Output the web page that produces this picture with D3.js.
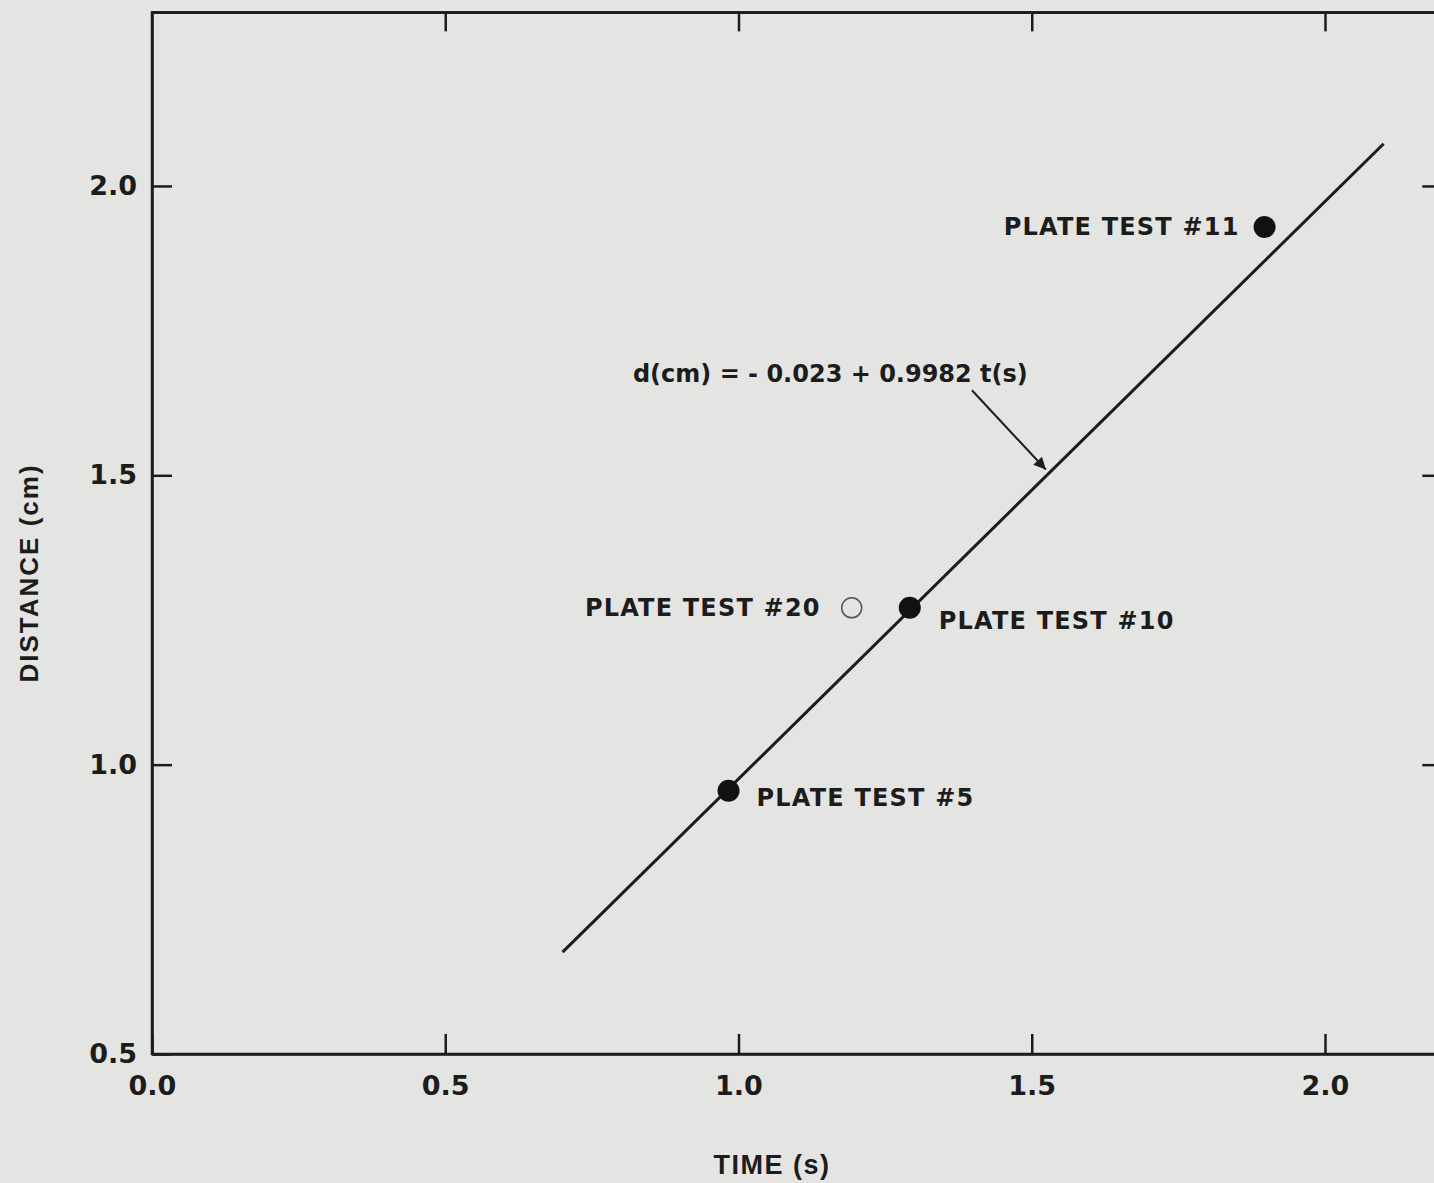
<!DOCTYPE html>
<html>
<head>
<meta charset="utf-8">
<script src="https://cdn.jsdelivr.net/npm/d3@7"></script>
<style>
    body { margin: 0; background: #e4e4e2; }
    svg { display: block; }
    .tick text { font-family: "DejaVu Sans", sans-serif; font-weight: bold; fill: #1c1c1c; }
    .lbl { font-family: "DejaVu Sans", sans-serif; font-weight: bold; fill: #1c1c1c; }
</style>
</head>
<body>
<div id="chart"></div>
<script>
// points: time (s), distance (cm)
let tests = ["PLATE TEST #11", "PLATE TEST #10", "PLATE TEST #5", "PLATE TEST #20"];
let timeVals = [1.897, 1.292, 0.983, 1.193];
let distVals = [1.929, 1.271, 0.955, 1.271];
let filled = [true, true, true, false];

// fitted line end points
let fitT = [0.70, 2.10];
let fitD = [0.676, 2.073];

let xTicks = [0.0, 0.5, 1.0, 1.5, 2.0];
let yTicks = [0.5, 1.0, 1.5, 2.0];

let equationText = "d(cm) = - 0.023 + 0.9982 t(s)";

let width = 1434, height = 1183;

let svg = d3.select("#chart").append("svg")
    .attr("width", width)
    .attr("height", height);

svg.append("rect").attr("width", width).attr("height", height).attr("fill", "#e4e4e2");

let x = d3.scaleLinear().domain([0, 2.2]).range([152, 152 + 586.5 * 2.2]);
let y = d3.scaleLinear().domain([0.5, 2.3]).range([1054, 1054 - 578.7 * 1.8]);

let ink = "#1c1c1c";

// frame
svg.append("rect")
    .attr("x", x(0)).attr("y", y(2.3))
    .attr("width", x(2.2) - x(0)).attr("height", y(0.5) - y(2.3))
    .attr("fill", "none").attr("stroke", ink).attr("stroke-width", 2.5);

let fmt = d3.format(".1f");

let gx = svg.append("g")
    .attr("transform", `translate(0,${y(0.5)})`)
    .call(d3.axisBottom(x).tickValues(xTicks).tickSize(-20).tickSizeOuter(0).tickPadding(22).tickFormat(fmt));
gx.selectAll("text").style("font-size", "27px");

let gy = svg.append("g")
    .attr("transform", `translate(${x(0)},0)`)
    .call(d3.axisLeft(y).tickValues(yTicks).tickSize(-20).tickSizeOuter(0).tickPadding(15).tickFormat(fmt));
gy.selectAll("text").style("font-size", "27px");

svg.append("g")
    .attr("transform", `translate(0,${y(2.3)})`)
    .call(d3.axisTop(x).tickValues(xTicks.slice(1)).tickSize(-19).tickSizeOuter(0).tickFormat(""));

svg.append("g")
    .attr("transform", `translate(${x(2.2)},0)`)
    .call(d3.axisRight(y).tickValues(yTicks.slice(1)).tickSize(-20).tickSizeOuter(0).tickFormat(""));

svg.selectAll(".domain").attr("stroke", ink).attr("stroke-width", 2.5);
svg.selectAll(".tick line").attr("stroke", ink).attr("stroke-width", 2.5);

// axis titles
svg.append("text")
    .attr("class", "lbl")
    .attr("x", 772).attr("y", 1174)
    .attr("text-anchor", "middle")
    .style("font-size", "27px")
    .style("font-family", "'Liberation Sans', sans-serif")
    .style("letter-spacing", "1.5px")
    .text("TIME (s)");

svg.append("text")
    .attr("class", "lbl")
    .attr("transform", "translate(38,573) rotate(-90)")
    .attr("text-anchor", "middle")
    .style("font-size", "26px")
    .style("font-family", "'Liberation Sans', sans-serif")
    .style("letter-spacing", "2px")
    .text("DISTANCE (cm)");

// fitted line
svg.append("line")
    .attr("x1", x(fitT[0])).attr("y1", y(fitD[0]))
    .attr("x2", x(fitT[1])).attr("y2", y(fitD[1]))
    .attr("stroke", ink).attr("stroke-width", 3);

// arrow to the line
let arrowFrom = [1.398, 1.647], arrowTo = [1.524, 1.510];
svg.append("defs").append("marker")
    .attr("id", "head")
    .attr("viewBox", "0 0 10 10")
    .attr("refX", 10).attr("refY", 5)
    .attr("markerWidth", 20).attr("markerHeight", 12)
    .attr("markerUnits", "userSpaceOnUse")
    .attr("orient", "auto")
    .append("path").attr("d", "M0,0 L10,5 L0,10 Z").attr("fill", ink);

svg.append("line")
    .attr("x1", x(arrowFrom[0])).attr("y1", y(arrowFrom[1]))
    .attr("x2", x(arrowTo[0])).attr("y2", y(arrowTo[1]))
    .attr("stroke", ink).attr("stroke-width", 2)
    .attr("marker-end", "url(#head)");

svg.append("text")
    .attr("class", "lbl")
    .attr("x", x(0.82)).attr("y", y(1.661))
    .style("font-size", "24px")
    .text(equationText);

// points
let pts = tests.map((name, i) => ({name: name, t: timeVals[i], d: distVals[i], filled: filled[i]}));
let offsets = {
    "PLATE TEST #11": {dx: -25, dy: 8, anchor: "end"},
    "PLATE TEST #10": {dx: 29, dy: 21, anchor: "start"},
    "PLATE TEST #5": {dx: 28, dy: 15, anchor: "start"},
    "PLATE TEST #20": {dx: -31, dy: 8, anchor: "end"}
};

svg.selectAll(".pt").data(pts).enter().append("circle")
    .attr("class", "pt")
    .attr("cx", d => x(d.t)).attr("cy", d => y(d.d))
    .attr("r", d => d.filled ? 11 : 10)
    .attr("fill", d => d.filled ? "#111" : "none")
    .attr("stroke", d => d.filled ? "none" : "#555")
    .attr("stroke-width", 1.5);

svg.selectAll(".ptlabel").data(pts).enter().append("text")
    .attr("class", "lbl")
    .attr("x", d => x(d.t) + offsets[d.name].dx)
    .attr("y", d => y(d.d) + offsets[d.name].dy)
    .attr("text-anchor", d => offsets[d.name].anchor)
    .style("font-size", "24px")
    .style("letter-spacing", "1.2px")
    .text(d => d.name);
</script>
</body>
</html>
